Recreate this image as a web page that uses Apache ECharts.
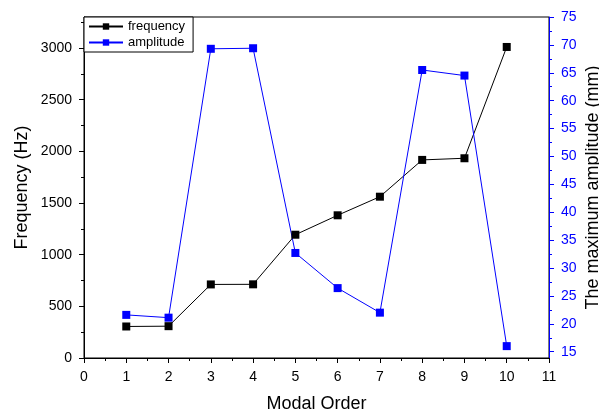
<!DOCTYPE html>
<html><head><meta charset="utf-8">
<script src="https://cdn.jsdelivr.net/npm/echarts@6/dist/echarts.min.js"></script>
<style>html,body{margin:0;padding:0;background:#fff}#c{width:599px;height:414px}</style>
</head><body><div id="c"></div>
<script>
const modalOrder = [1,2,3,4,5,6,7,8,9,10];
const frequency = [305,308,712,713,1193,1381,1561,1917,1933,3010];
const amplitude = [21.6,21.1,69.3,69.4,32.7,26.4,22.0,65.5,64.5,16.0];
const freqTicks = [0,500,1000,1500,2000,2500,3000];
const freqMinor = [250,750,1250,1750,2250,2750,3250];
const ampTicks = [15,20,25,30,35,40,45,50,55,60,65,70,75];
const ampMinor = [17.5,22.5,27.5,32.5,37.5,42.5,47.5,52.5,57.5,62.5,67.5,72.5];

const FONT = 'Liberation Sans, Arial, sans-serif';
const chart = echarts.init(document.getElementById('c'), null, {renderer:'canvas'});
const F_MIN=0, F_MAX=3300, A_MIN=13.87, A_MAX=75;
const plain = v => String(v);
const G = {left:84,right:50,top:17,bottom:56,containLabel:false,outerBoundsMode:'none'};
chart.setOption({
  animation:false,
  grid:[Object.assign({show:true,borderColor:'#000',borderWidth:1,backgroundColor:'transparent'},G), Object.assign({},G)],
  legend:{
    left:84, top:17, orient:'vertical', itemGap:3, itemWidth:34, itemHeight:8,
    padding:[3,8,3,4], borderColor:'#000', borderWidth:1, backgroundColor:'#fff',
    textStyle:{fontFamily:FONT,fontSize:13,color:'#000'},
    data:['frequency','amplitude']
  },
  xAxis:[{
    gridIndex:0, type:'value', min:0, max:11, interval:1, position:'bottom',
    name:'Modal Order', nameLocation:'middle', nameGap:37, nameMoveOverlap:false,
    nameTextStyle:{fontFamily:FONT,fontSize:18,color:'#000'},
    axisLine:{onZero:false,lineStyle:{color:'#000',width:1}},
    axisTick:{inside:false,length:5,lineStyle:{color:'#000'}},
    minorTick:{show:true,splitNumber:2,length:3,lineStyle:{color:'#000'}},
    axisLabel:{fontFamily:FONT,fontSize:14,color:'#000',margin:12,formatter:plain},
    splitLine:{show:false}
  },{
    gridIndex:1, type:'value', min:0, max:11, position:'bottom', show:false
  }],
  yAxis:[{
    gridIndex:0, type:'value', min:F_MIN, max:F_MAX, position:'left',
    name:'Frequency (Hz)', nameLocation:'middle', nameGap:53, nameRotate:90, nameMoveOverlap:false,
    nameTextStyle:{fontFamily:FONT,fontSize:18,color:'#000'},
    axisLine:{show:true,onZero:false,lineStyle:{color:'#000',width:1}},
    axisTick:{show:true,length:5,customValues:freqTicks,lineStyle:{color:'#000'}},
    axisLabel:{fontFamily:FONT,fontSize:14,color:'#000',margin:12,customValues:freqTicks,formatter:plain},
    splitLine:{show:false}
  },{
    gridIndex:0, type:'value', min:A_MIN, max:A_MAX, position:'right',
    name:'The maximum amplitude (mm)', nameLocation:'middle', nameGap:35, nameRotate:90, nameMoveOverlap:false,
    nameTextStyle:{fontFamily:FONT,fontSize:18,color:'#000'},
    axisLine:{show:true,onZero:false,lineStyle:{color:'#0000ff',width:1}},
    axisTick:{show:true,length:5,customValues:ampTicks,lineStyle:{color:'#0000ff'}},
    axisLabel:{fontFamily:FONT,fontSize:14,color:'#0000ff',margin:12,customValues:ampTicks,formatter:plain},
    splitLine:{show:false}
  },{
    gridIndex:1, type:'value', min:F_MIN, max:F_MAX, position:'left',
    axisLine:{show:false,onZero:false},
    axisTick:{show:true,length:3,customValues:freqMinor,lineStyle:{color:'#000'}},
    axisLabel:{show:false}, splitLine:{show:false}
  },{
    gridIndex:1, type:'value', min:A_MIN, max:A_MAX, position:'right',
    axisLine:{show:false,onZero:false},
    axisTick:{show:true,length:3,customValues:ampMinor,lineStyle:{color:'#0000ff'}},
    axisLabel:{show:false}, splitLine:{show:false}
  }],
  series:[{
    name:'frequency', type:'line', xAxisIndex:0, yAxisIndex:0,
    data:modalOrder.map((m,i)=>[m,frequency[i]]),
    symbol:'rect', symbolSize:8, lineStyle:{color:'#000',width:1},
    itemStyle:{color:'#000'}
  },{
    name:'amplitude', type:'line', xAxisIndex:0, yAxisIndex:1,
    data:modalOrder.map((m,i)=>[m,amplitude[i]]),
    symbol:'rect', symbolSize:8, lineStyle:{color:'#0000ff',width:1},
    itemStyle:{color:'#0000ff'}
  }]
});
</script></body></html>
